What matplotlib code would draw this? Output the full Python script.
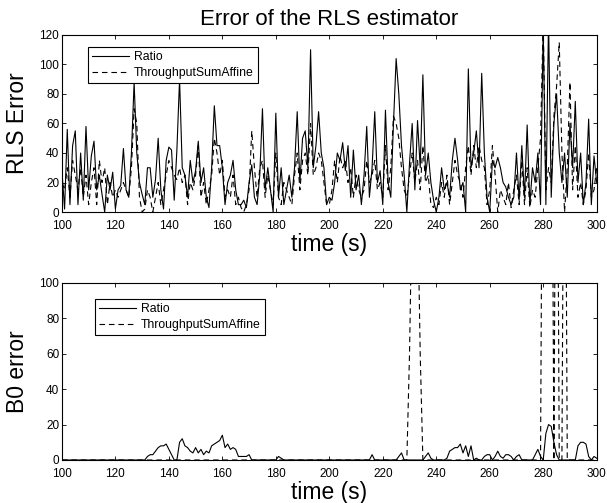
import numpy as np
import matplotlib
matplotlib.use("Agg")
import matplotlib.pyplot as plt

plt.rcParams["font.family"] = ["Liberation Sans", "DejaVu Sans"]

time = np.arange(100, 301)

# RLS error, Ratio estimator (solid)
rls_ratio = [
    28, 2, 56, 5, 45, 55, 5, 40, 8, 58,
    15, 38, 48, 15, 25, 12, 0, 25, 15, 27,
    2, 15, 18, 43, 15, 10, 40, 88, 40, 20,
    12, 5, 30, 30, 10, 22, 50, 15, 2, 35,
    44, 42, 8, 42, 90, 30, 25, 10, 35, 20,
    28, 48, 20, 30, 10, 3, 30, 72, 45, 45,
    30, 5, 20, 25, 35, 15, 5, 5, 8, 3,
    20, 32, 10, 5, 25, 70, 15, 30, 15, 0,
    67, 10, 30, 5, 15, 25, 10, 30, 68, 20,
    50, 55, 30, 110, 30, 45, 68, 40, 30, 5,
    10, 8, 20, 40, 35, 47, 28, 45, 10, 42,
    15, 25, 5, 25, 58, 10, 30, 68, 20, 28,
    5, 69, 20, 10, 60, 104, 80, 45, 25, 0,
    33, 60, 15, 62, 30, 93, 25, 40, 20, 8,
    0, 10, 30, 15, 20, 10, 35, 50, 35, 15,
    20, 0, 97, 30, 40, 55, 30, 94, 40, 10,
    0, 35, 30, 37, 30, 20, 17, 10, 5, 10,
    40, 8, 45, 10, 59, 5, 30, 20, 40, 5,
    125, 5, 130, 10, 60, 80, 40, 20, 40, 10,
    60, 30, 75, 20, 40, 5, 20, 63, 5, 38,
    20,
]

# RLS error, ThroughputSumAffine estimator (dashed)
rls_affine = [
    20, 15, 30, 10, 35, 25, 15, 30, 10, 25,
    5, 20, 30, 5, 35, 20, 30, 5, 20, 10,
    15, 10, 15, 20, 15, 10, 30, 70, 60, 10,
    0, 2, 15, 10, 0, 10, 20, 5, 15, 25,
    35, 30, 25, 22, 30, 20, 25, 5, 20, 15,
    25, 45, 10, 20, 5, 15, 25, 50, 40, 25,
    35, 10, 15, 10, 25, 5, 10, 3, 0, 5,
    15, 55, 30, 10, 30, 35, 10, 25, 15, 5,
    40, 10, 5, 20, 15, 10, 5, 25, 40, 15,
    35, 40, 25, 60, 25, 30, 40, 35, 20, 5,
    5, 15, 35, 20, 38, 30, 35, 20, 30, 10,
    25, 15, 10, 15, 35, 20, 25, 35, 15, 20,
    10, 45, 15, 30, 65, 60, 50, 30, 15, 10,
    25, 40, 20, 35, 15, 45, 20, 25, 5, 3,
    10, 5, 20, 10, 25, 5, 20, 35, 25, 20,
    10, 30, 45, 25, 45, 30, 45, 35, 30, 5,
    15, 45, 25, 0, 15, 10, 5, 20, 3, 15,
    25, 5, 35, 5, 30, 3, 15, 10, 30, 50,
    130, 15, 30, 20, 65, 85, 115, 40, 0, 30,
    88, 15, 45, 10, 20, 5, 15, 40, 10, 15,
    30,
]

# B0 error, Ratio estimator (solid)
b0_ratio = (
    [0] * 32                                   # 100-131
    + [2, 3, 3, 5, 7, 8, 8, 9, 6, 3,           # 132-141
       0, 0, 10, 12, 8, 7, 5, 4, 7, 4,         # 142-151
       6, 3, 5, 4, 8, 9, 10, 11, 14, 7,        # 152-161
       9, 6, 7, 6, 2, 2, 2, 2, 3]              # 162-170
    + [0] * 10 + [2, 1]                        # 171-182
    + [0] * 33 + [3]                           # 183-216
    + [0] * 9 + [2, 4]                         # 217-227
    + [0] * 8                                  # 228-235
    + [2, 4, 1, 0, 0, 0, 0, 0, 1, 5,           # 236-245
       6, 7, 7, 9, 4, 8, 2, 8, 0, 1,
       0, 0, 2, 3, 3, 0, 2, 5, 2, 1,
       3, 3, 2, 0, 2, 3, 0, 0, 0, 0,
       0, 3, 6, 2, 0, 15, 20, 19, 10, 3,
       0, 0, 0, 0, 0, 0, 0, 8, 10, 10,
       9, 2, 0, 2, 1]                          # 296-300
)

# B0 error, ThroughputSumAffine estimator (dashed)
b0_affine = (
    [0] * 130 + [60, 150, 200, 150, 60]        # 100-234
    + [0] * 45                                 # 235-279
    + [300, 300, 300, 300, 0, 300, 0, 0, 300]  # 280-288
    + [0] * 12                                 # 289-300
)

line_kw = dict(color="black", linewidth=0.8)
dash = (0, (5, 3.5))

fig = plt.figure(figsize=(6.07, 5.03), dpi=100)
ax1 = fig.add_axes([0.102, 0.5785, 0.881, 0.352])
ax2 = fig.add_axes([0.102, 0.0855, 0.881, 0.352])

ax1.plot(time, rls_ratio, label="Ratio", **line_kw)
ax1.plot(time, rls_affine, linestyle=dash, label="ThroughputSumAffine", **line_kw)
ax1.set_ylim(0, 120)
ax1.set_yticks(range(0, 121, 20))
ax1.set_ylabel("RLS Error", fontsize=16.5)
ax1.set_title("Error of the RLS estimator", fontsize=16, pad=7)

ax2.plot(time, b0_ratio, label="Ratio", **line_kw)
ax2.plot(time, b0_affine, linestyle=dash, label="ThroughputSumAffine", **line_kw)
ax2.set_ylim(0, 100)
ax2.set_yticks(range(0, 101, 20))
ax2.set_ylabel("B0 error", fontsize=16.5)

for ax in (ax1, ax2):
    ax.set_xlim(100, 300)
    ax.set_xticks(range(100, 301, 20))
    ax.set_xlabel("time (s)", fontsize=16.5, labelpad=1)
    ax.tick_params(direction="in", top=True, right=True, labelsize=8.5,
                   length=3, width=0.6, pad=2)
    ax.tick_params(axis="x", pad=5.5)
    ax.yaxis.set_label_coords(-0.062, 0.5)
    for s in ax.spines.values():
        s.set_linewidth(0.8)

leg_kw = dict(fontsize=8.8, frameon=True, fancybox=False, edgecolor="black",
              framealpha=1, handlelength=3.0, borderpad=0.35, labelspacing=0.3,
              handletextpad=0.4, borderaxespad=0)
l1 = ax1.legend(loc="upper left", bbox_to_anchor=(0.0486, 0.932), **leg_kw)
l2 = ax2.legend(loc="upper left", bbox_to_anchor=(0.0617, 0.91), **leg_kw)
for lg in (l1, l2):
    lg.get_frame().set_linewidth(0.8)

fig.savefig("out.png", dpi=100)
